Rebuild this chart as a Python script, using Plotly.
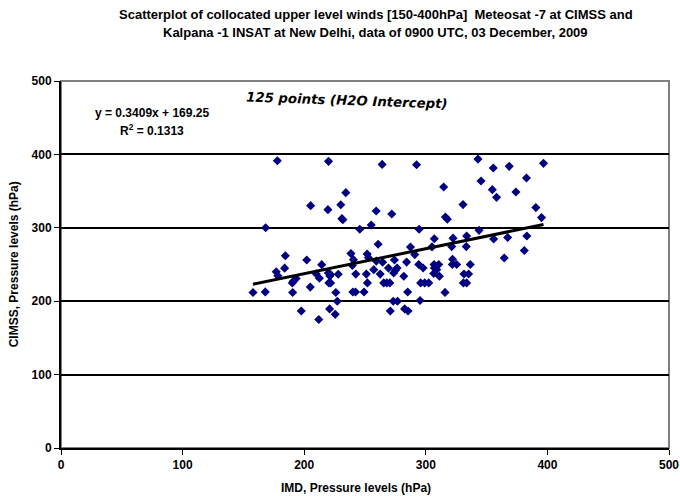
import plotly.graph_objects as go
import numpy as np

# IMD pressure (x) and CIMSS pressure (y), hPa
imd = [177.9, 220.0, 234.2, 205.3, 219.5, 230.1, 231.0, 231.8, 168.3, 264.1,
       259.2, 272.0, 245.7, 255.1, 292.4, 342.9, 355.5, 368.6, 396.8, 345.4,
       382.8, 354.7, 374.1, 358.2, 314.7, 330.6, 390.5, 395.2, 316.1, 317.7,
       294.5, 343.8, 260.8, 287.4, 290.9, 305.1, 307.0, 322.4, 333.6, 355.8,
       367.3, 383.1, 321.3, 333.3, 381.0, 364.5, 322.0, 321.8, 325.4, 336.6,
       331.4, 335.2, 330.9, 333.6, 184.5, 202.1, 183.9, 177.0, 178.3, 214.4,
       238.4, 240.5, 239.6, 251.8, 252.8, 259.3, 264.5, 274.2, 284.2, 294.2,
       297.8, 269.3, 276.4, 275.0, 273.6, 257.2, 262.5, 251.1, 242.4, 281.9,
       306.8, 310.6, 307.0, 309.0, 306.5, 311.2, 209.8, 212.5, 219.8, 221.7,
       221.1, 228.0, 193.4, 191.0, 190.2, 205.0, 220.3, 221.7, 226.0, 227.2,
       157.9, 168.0, 190.5, 240.0, 242.2, 249.2, 252.0, 265.4, 267.9, 270.4,
       285.1, 295.8, 299.1, 302.4, 315.8, 273.2, 276.7, 295.3, 197.6, 212.0,
       220.9, 225.5, 270.8, 282.6, 285.4]
cimss = [391.4, 390.5, 347.9, 330.2, 324.7, 331.5, 312.5, 311.0, 300.0, 386.4,
         322.9, 318.8, 298.0, 303.8, 386.0, 393.6, 381.4, 383.7, 387.8, 363.7,
         367.8, 352.0, 348.8, 341.5, 355.5, 331.6, 327.5, 313.9, 314.7, 311.6,
         298.0, 296.5, 277.6, 273.7, 263.5, 274.0, 285.0, 285.9, 288.8, 284.8,
         286.7, 288.8, 274.4, 274.4, 269.0, 258.9, 257.1, 249.9, 249.9, 249.9,
         237.1, 237.1, 224.9, 224.9, 262.0, 256.2, 245.0, 240.2, 234.7, 249.8,
         264.9, 256.6, 248.6, 264.2, 259.3, 254.6, 253.0, 256.2, 253.3, 249.9,
         245.3, 245.1, 245.3, 242.2, 238.5, 243.0, 236.9, 236.9, 236.9, 234.0,
         249.9, 249.9, 245.3, 243.0, 237.7, 234.0, 237.4, 231.3, 238.5, 236.3,
         234.4, 236.7, 231.0, 227.2, 224.9, 219.2, 224.9, 224.9, 211.8, 200.0,
         211.8, 212.7, 211.8, 212.5, 212.5, 212.5, 224.9, 224.9, 224.9, 224.9,
         212.5, 224.9, 224.9, 224.9, 212.0, 200.0, 200.0, 200.9, 186.6, 175.0,
         189.5, 182.1, 186.6, 189.5, 186.6]

slope = 0.3409
intercept = 169.25
r2 = 0.1313
tick_vals = [0, 100, 200, 300, 400, 500]
tick_text = ["<b>%d</b>" % v for v in tick_vals]

x_fit = np.array([min(imd), max(imd)])
y_fit = slope * x_fit + intercept

FONT = "Arial, Liberation Sans, sans-serif"

fig = go.Figure()
fig.add_trace(go.Scatter(x=imd, y=cimss, mode="markers",
                         marker=dict(symbol="diamond", size=7, color="#000080",
                                     line=dict(width=0)),
                         showlegend=False, hoverinfo="x+y"))
fig.add_trace(go.Scatter(x=x_fit, y=y_fit, mode="lines",
                         line=dict(color="black", width=3), showlegend=False))

axis_common = dict(range=[0, 500], tickvals=tick_vals, ticktext=tick_text,
                   zeroline=False, showline=True, linecolor="black", linewidth=2,
                   ticks="outside", ticklen=5, tickcolor="black", tickwidth=1,
                   tickfont=dict(size=12, family=FONT, color="black"),
                   automargin=False, ticklabeloverflow="allow")

fig.update_layout(
    width=680, height=496,
    margin=dict(l=61, r=11, t=81, b=48),
    paper_bgcolor="white", plot_bgcolor="white",
    font=dict(family=FONT, size=12, color="black"),
    xaxis=dict(showgrid=False, **axis_common),
    yaxis=dict(showgrid=True, gridcolor="black", gridwidth=2, **axis_common),
)

# gray plot-area border
fig.add_shape(type="rect", xref="paper", yref="paper", x0=0, y0=0, x1=1, y1=1,
              line=dict(color="#808080", width=2), layer="below")

def txt(x, y, s, size=12, angle=0, family=FONT):
    fig.add_annotation(xref="paper", yref="paper", x=x, y=y, text=s,
                       showarrow=False, textangle=angle,
                       font=dict(size=size, family=family, color="black"),
                       xanchor="center", yanchor="middle")

# title (two lines)
txt(0.518, 1.180, "<b>Scatterplot of collocated upper level winds [150-400hPa]  Meteosat -7 at CIMSS and</b>", 13)
txt(0.518, 1.131, "<b>Kalpana -1 INSAT at New Delhi, data of 0900 UTC, 03 December, 2009</b>", 13)

# axis titles
txt(0.485, -0.109, "<b>IMD, Pressure levels (hPa)</b>", 12)
txt(-0.077, 0.501, "<b>CIMSS, Pressure levels (hPa)</b>", 12, angle=-90)

# regression text
txt(0.149, 0.913, "<b>y = %.4fx + %.2f</b>" % (slope, intercept), 12)
txt(0.149, 0.866, "<b>R<sup>2</sup> = %.4f</b>" % r2, 12)

# word-art label
txt(0.470, 0.946, "<b><i>125 points (H2O Intercept)</i></b>", 13.3, angle=2,
    family="DejaVu Sans, sans-serif")

# remove the default page margin so the figure fills the window exactly
fig.write_html("out.html",
               config={"displayModeBar": False},
               post_script="document.body.style.margin='0';"
                           "document.documentElement.style.overflow='hidden';"
                           "document.body.style.overflow='hidden';")
